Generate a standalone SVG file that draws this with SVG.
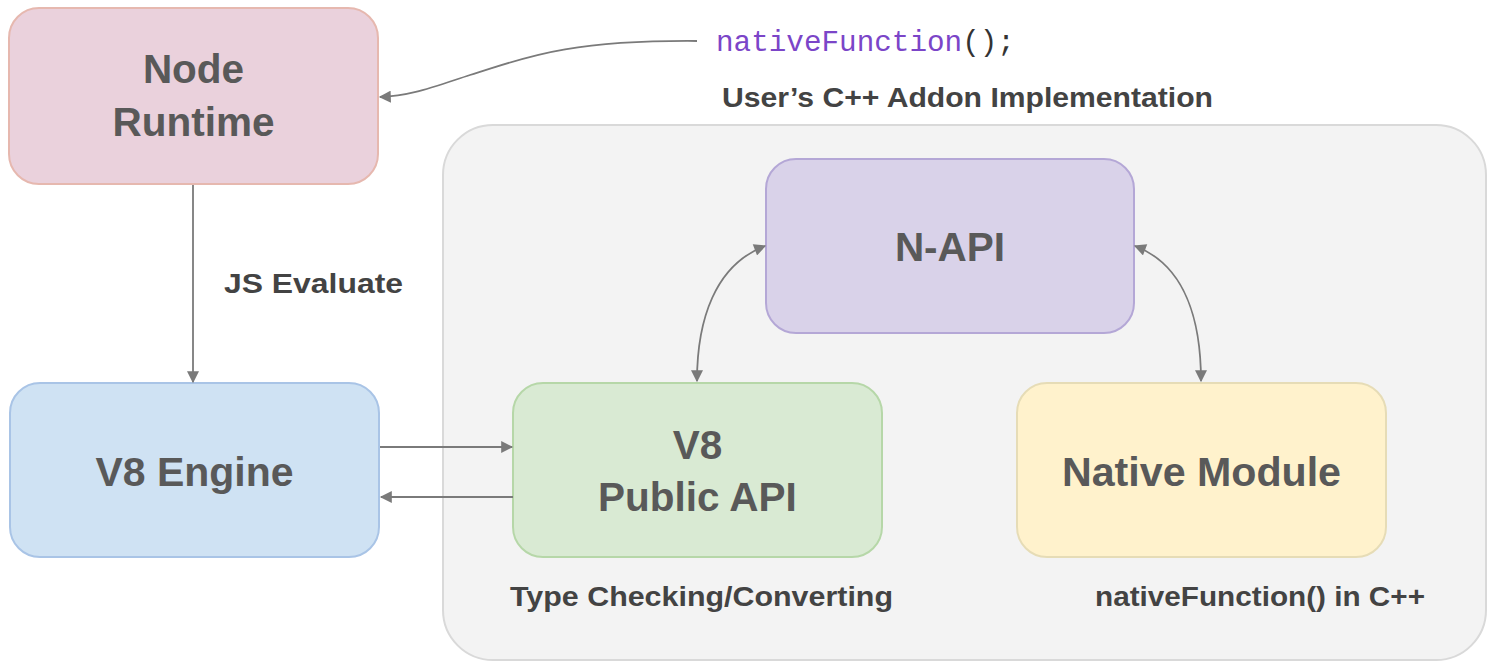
<svg xmlns="http://www.w3.org/2000/svg" width="1487" height="662" viewBox="0 0 1487 662">
<defs>
<style>
.big{font-family:"Liberation Sans",Arial,sans-serif;font-weight:bold;font-size:40.5px;fill:#595959;text-anchor:middle}
.lbl{font-family:"Liberation Sans",Arial,sans-serif;font-weight:bold;font-size:28px;fill:#434343}
.mono{font-family:"Liberation Mono","DejaVu Sans Mono",monospace;font-size:29.3px}
.conn{fill:none;stroke:#7a7a7a;stroke-width:1.8}
</style>
<marker id="ah" viewBox="0 0 10 10" refX="9" refY="5" markerWidth="13" markerHeight="12" markerUnits="userSpaceOnUse" orient="auto-start-reverse">
<path d="M0,0 L10,5 L0,10 z" fill="#7a7a7a"/>
</marker>
</defs>
<rect width="1487" height="662" fill="#ffffff"/>
<g id="container">
<rect x="443" y="125" width="1043" height="535" rx="50" fill="#f3f3f3" stroke="#d9d9d9" stroke-width="2"/>
</g>
<g id="node-runtime">
<rect x="9" y="8" width="369" height="176" rx="30" fill="#ead1dc" stroke="#e6b8af" stroke-width="2"/>
<text class="big" x="193.5" y="83">Node</text>
<text class="big" x="193.5" y="136">Runtime</text>
</g>
<g id="v8-engine">
<rect x="10" y="383" width="369" height="174" rx="30" fill="#cfe2f3" stroke="#a9c4e6" stroke-width="2"/>
<text class="big" x="194.5" y="486" textLength="198" lengthAdjust="spacingAndGlyphs">V8 Engine</text>
</g>
<g id="n-api">
<rect x="766" y="159" width="368" height="174" rx="30" fill="#d9d2e9" stroke="#b4a7d6" stroke-width="2"/>
<text class="big" x="950" y="261">N-API</text>
</g>
<g id="v8-public-api">
<rect x="513" y="383" width="369" height="174" rx="30" fill="#d9ead3" stroke="#b6d7a8" stroke-width="2"/>
<text class="big" x="697.5" y="459">V8</text>
<text class="big" x="697.5" y="511">Public API</text>
</g>
<g id="native-module">
<rect x="1017" y="383" width="369" height="174" rx="30" fill="#fff2cc" stroke="#e6dcb6" stroke-width="2"/>
<text class="big" x="1201.5" y="486" textLength="279" lengthAdjust="spacingAndGlyphs">Native Module</text>
</g>
<g id="labels">
<text class="mono" x="716" y="51"><tspan fill="#7b45c8">nativeFunction</tspan><tspan fill="#333333">();</tspan></text>
<text class="lbl" x="722" y="107" textLength="491" lengthAdjust="spacingAndGlyphs">User’s C++ Addon Implementation</text>
<text class="lbl" x="224" y="293" textLength="179" lengthAdjust="spacingAndGlyphs">JS Evaluate</text>
<text class="lbl" x="510" y="606" textLength="383" lengthAdjust="spacingAndGlyphs">Type Checking/Converting</text>
<text class="lbl" x="1095" y="606" textLength="330" lengthAdjust="spacingAndGlyphs">nativeFunction() in C++</text>
</g>
<g id="connectors">
<path class="conn" d="M697,41 C560,40 520,60 470,75 C430,88 410,96 380,97" marker-end="url(#ah)"/>
<path class="conn" d="M193,185 L193,382" marker-end="url(#ah)"/>
<path class="conn" d="M380,447 L512,447" marker-end="url(#ah)"/>
<path class="conn" d="M513,497 L381,497" marker-end="url(#ah)"/>
<path class="conn" d="M697,381 C697,320 715,265 765,246" marker-start="url(#ah)" marker-end="url(#ah)"/>
<path class="conn" d="M1201,381 C1201,320 1185,265 1135,246" marker-start="url(#ah)" marker-end="url(#ah)"/>
</g>
</svg>
